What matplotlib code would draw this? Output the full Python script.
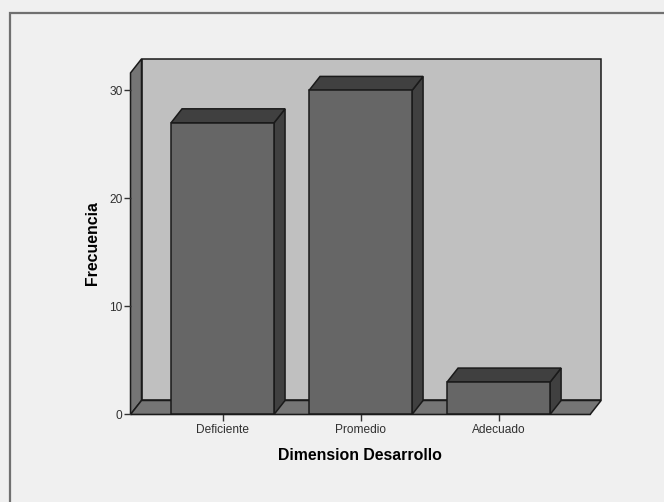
import matplotlib
matplotlib.use("Agg")
import matplotlib.pyplot as plt
from matplotlib.lines import Line2D
from matplotlib.patches import Polygon

categories = ["Deficiente", "Promedio", "Adecuado"]
values = [27, 30, 3]
yticks = [0, 10, 20, 30]

W, H = 664, 502
BG = "#f0f0f0"
WALL = "#c0c0c0"
SIDE_WALL = "#757575"
FRONT = "#666666"
DARK = "#404040"
EDGE = "#1a1a1a"

# pixel layout of the plot box
left, right = 130.5, 590
bottom, top = 414.5, 73
px_per_unit = 10.8
px_per_cat = 138
first_cat = 222.5

plt.rcParams["font.family"] = ["Liberation Sans", "DejaVu Sans"]

# small extra so the pixel height does not get truncated to 501
fig = plt.figure(figsize=((W + 0.1) / 100, (H + 0.1) / 100), dpi=100, facecolor=BG)
ax = fig.add_axes([left / W, 1 - bottom / H, (right - left) / W, (bottom - top) / H])
ax.set_xlim((left - first_cat) / px_per_cat, (right - first_cat) / px_per_cat)
ax.set_ylim(0, (bottom - top) / px_per_unit)
ax.patch.set_visible(False)

# depth of the 3d effect, in data units
dx = 11 / px_per_cat
dy = 14 / px_per_unit
bar_w = 103 / px_per_cat


def poly(pts, color, z=2):
    ax.add_patch(Polygon(pts, closed=True, facecolor=color, edgecolor=EDGE,
                         linewidth=1.1, joinstyle="miter", clip_on=False, zorder=z))


x0, x1 = ax.get_xlim()
y0, y1 = ax.get_ylim()

# walls and floor
poly([(x0 + dx, y0 + dy), (x1 + dx, y0 + dy), (x1 + dx, y1 + dy), (x0 + dx, y1 + dy)], WALL, 1)
poly([(x0, y0), (x0 + dx, y0 + dy), (x0 + dx, y1 + dy), (x0, y1)], SIDE_WALL, 1)
poly([(x0, y0), (x1, y0), (x1 + dx, y0 + dy), (x0 + dx, y0 + dy)], SIDE_WALL, 1)

# bars
for i, v in enumerate(values):
    a, b = i - bar_w / 2, i + bar_w / 2
    poly([(b, 0), (b + dx, dy), (b + dx, v + dy), (b, v)], DARK, 3)
    poly([(a, v), (b, v), (b + dx, v + dy), (a + dx, v + dy)], DARK, 3)
    poly([(a, 0), (b, 0), (b, v), (a, v)], FRONT, 4)

for s in ["top", "right", "left"]:
    ax.spines[s].set_visible(False)
ax.spines["bottom"].set_color(EDGE)
ax.spines["bottom"].set_zorder(5)

ax.set_xticks(range(len(categories)), categories)
ax.set_yticks(yticks)
ax.tick_params(axis="both", length=5, width=1, color="#333333",
               labelsize=8.6, labelcolor="#303030")
ax.tick_params(axis="x", pad=1.5)
ax.tick_params(axis="y", pad=0.8)

fig.text(359.5 / W, 1 - 455 / H, "Dimension Desarrollo", ha="center", va="center",
         fontsize=11.4, fontweight="bold", color="black")
fig.text(92 / W, 1 - 243.5 / H, "Frecuencia", ha="center", va="center",
         rotation=90, fontsize=11.4, fontweight="bold", color="black")

# outer chart frame, only top and left are inside the image
fx, fy = 9.5 / W, 1 - 13.5 / H
fig.add_artist(Line2D([fx, fx, 1], [0, fy, fy], transform=fig.transFigure,
                      color="#707070", linewidth=1.6, solid_joinstyle="miter"))

fig.savefig("out.png", dpi=100, facecolor=BG)
